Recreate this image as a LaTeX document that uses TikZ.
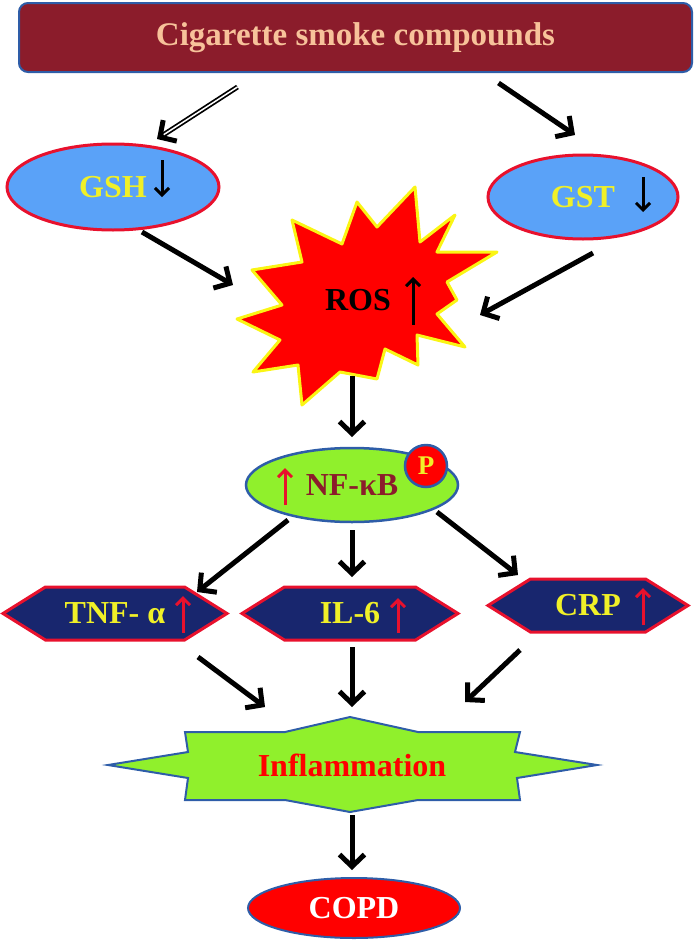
\documentclass[tikz,border=0pt]{standalone}
\usepackage{fontspec}
\setmainfont{Liberation Serif}
\usetikzlibrary{arrows.meta,shapes.geometric,shapes.symbols}

\definecolor{maroon}{RGB}{139,28,43}
\definecolor{peach}{RGB}{247,194,154}
\definecolor{edgeblue}{RGB}{46,93,168}
\definecolor{skyfill}{RGB}{90,162,248}
\definecolor{hotred}{RGB}{232,17,45}
\definecolor{lbl}{RGB}{240,240,40}
\definecolor{limefill}{RGB}{144,240,44}
\definecolor{navyfill}{RGB}{24,38,110}
\definecolor{burstrim}{RGB}{250,245,20}

\tikzset{
  flow/.style={line width=5pt, -{Straight Barb[length=12pt,width=25pt]}},
  tinyup/.style={line width=3pt, -{Straight Barb[length=7pt,width=14pt]}},
  big/.style={font=\bfseries\fontsize{32}{36}\selectfont},
  oval/.style={ellipse, draw=hotred, line width=3pt, fill=skyfill, text=lbl, inner sep=0pt, outer sep=0pt, big},
  hexa/.style={signal, signal to=west and east, signal pointer angle=64, draw=hotred, line width=3pt,
    fill=navyfill, text=lbl, minimum height=53pt, inner sep=0pt, outer sep=0pt, big},
}

\begin{document}
\begin{tikzpicture}[x=1pt,y=-1pt]
\useasboundingbox (0,0) rectangle (695,945);

\node[draw=edgeblue, line width=2pt, fill=maroon, rounded corners=9pt, minimum width=673pt, minimum height=69pt,
  outer sep=0pt, text=peach, font=\bfseries\fontsize{33}{36}\selectfont] (title) at (355.5,37.5) {Cigarette smoke compounds};

\node[oval, minimum width=212pt, minimum height=86pt] (gsh) at (113,187) {GSH};
\node[oval, minimum width=190pt, minimum height=84pt] (gst) at (583,197) {GST};

\draw[fill=red, draw=burstrim, line width=3pt, line join=round]
  (415,187) -- (420,242) -- (455,215) -- (437,252) -- (497,252) -- (447,282) -- (457,300) -- (437,314)
  -- (465,347) -- (417,335) -- (418,365) -- (385,349) -- (377,379) -- (340,372) -- (302,405) -- (298,365)
  -- (253,372) -- (280,340) -- (237,319) -- (282,305) -- (252,270) -- (302,262) -- (292,220) -- (342,244)
  -- (357,202) -- (377,227) -- cycle;
\node[big, text=black] (ros) at (358,300) {ROS};

\node[ellipse, draw=edgeblue, line width=2.5pt, fill=limefill, minimum width=212pt, minimum height=74pt,
  inner sep=0pt, outer sep=0pt, text=maroon, big] (nfkb) at (352,485) {NF-κB};
\node[circle, draw=edgeblue, line width=2.5pt, fill=red, minimum size=42pt, inner sep=0pt, text=lbl,
  font=\bfseries\fontsize{27}{30}\selectfont] (phos) at (426,466) {P};

\node[hexa, minimum width=224pt] (tnf) at (115,613.5) {TNF- α};
\node[hexa, minimum width=216pt] (il6) at (350,613.5) {IL-6};
\node[hexa, minimum width=200pt] (crp) at (588,605.5) {CRP};

\draw[fill=limefill, draw=edgeblue, line width=2pt]
  (108,765) -- (188,752) -- (185,732) -- (285,732) -- (350,717) -- (418,732) -- (520,732) -- (515,752)
  -- (597,765) -- (517,778) -- (520,800) -- (418,800) -- (350,812) -- (285,800) -- (185,800) -- (188,778) -- cycle;
\node[big, text=red] (infl) at (352,765) {Inflammation};

\node[ellipse, draw=edgeblue, line width=2pt, fill=red, minimum width=212pt, minimum height=60pt,
  inner sep=0pt, outer sep=0pt, text=white, big] (copd) at (354,908) {COPD};

\draw[flow] ([shift={(-118,15)}]title.south) -- ([shift={(44,-5)}]gsh.north);
\draw[white, line width=1.5pt, shorten >=8pt] ([shift={(-118,15)}]title.south) -- ([shift={(44,-5)}]gsh.north);
\draw[flow] ([shift={(143,11)}]title.south) -- ([shift={(-8,-20)}]gst.north);
\draw[flow] ([shift={(29,2)}]gsh.south) -- ([shift={(-125,-15)}]ros.center);
\draw[flow] ([shift={(10,14)}]gst.south) -- ([shift={(122,15)}]ros.center);
\draw[flow] ([shift={(-6,76)}]ros.center) -- ([shift={(0,-11)}]nfkb.north);
\draw[flow] ([shift={(-64,-2)}]nfkb.south) -- ([shift={(82,5)}]tnf.north);
\draw[flow] ([shift={(0,8)}]nfkb.south) -- ([shift={(2,-10)}]il6.north);
\draw[flow] ([shift={(85,-10)}]nfkb.south) -- ([shift={(-70,-4)}]crp.north);
\draw[flow] ([shift={(83,17)}]tnf.south) -- ([shift={(-87,-58)}]infl.center);
\draw[flow] ([shift={(2,7)}]il6.south) -- ([shift={(0,-58)}]infl.center);
\draw[flow] ([shift={(-68,18)}]crp.south) -- ([shift={(113,-63)}]infl.center);
\draw[flow] ([shift={(0,50)}]infl.center) -- ([shift={(-2,-8)}]copd.north);

\draw[tinyup] ([shift={(49,-27)}]gsh.center) -- ([shift={(49,10)}]gsh.center);
\draw[tinyup] ([shift={(60,-20)}]gst.center) -- ([shift={(60,15)}]gst.center);
\draw[tinyup] ([shift={(55,25)}]ros.center) -- ([shift={(55,-23)}]ros.center);
\draw[tinyup, hotred] ([shift={(-67,20)}]nfkb.center) -- ([shift={(-67,-17)}]nfkb.center);
\draw[tinyup, hotred] ([shift={(68,19.5)}]tnf.center) -- ([shift={(68,-17.5)}]tnf.center);
\draw[tinyup, hotred] ([shift={(48,19.5)}]il6.center) -- ([shift={(48,-15.5)}]il6.center);
\draw[tinyup, hotred] ([shift={(55,19.5)}]crp.center) -- ([shift={(55,-17.5)}]crp.center);
\end{tikzpicture}
\end{document}
